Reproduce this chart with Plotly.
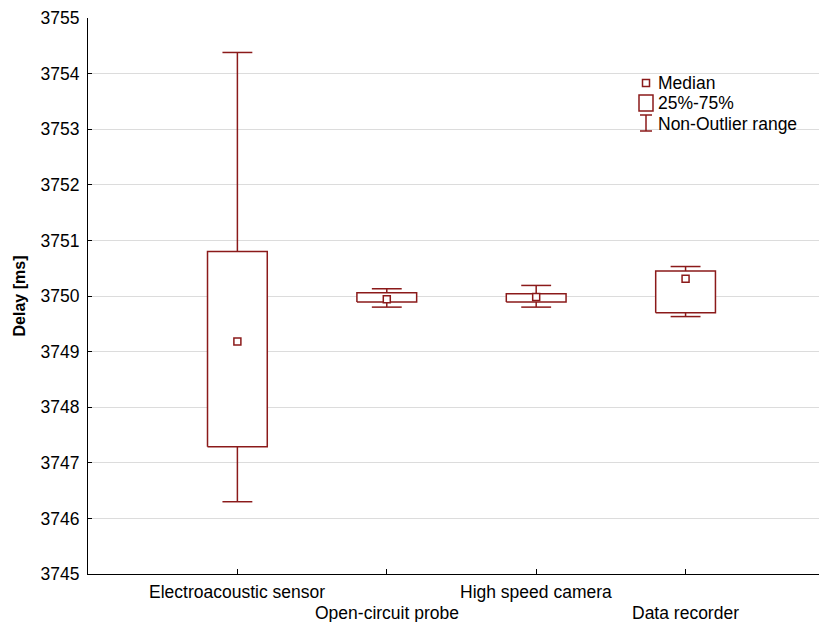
import plotly.graph_objects as go

categories = ["Electroacoustic sensor", "Open-circuit probe", "High speed camera", "Data recorder"]
lower_fence = [3746.30, 3749.80, 3749.80, 3749.63]
q1 = [3747.29, 3749.89, 3749.89, 3749.70]
median = [3749.18, 3749.94, 3749.98, 3750.31]
q3 = [3750.80, 3750.06, 3750.04, 3750.45]
upper_fence = [3754.38, 3750.13, 3750.19, 3750.53]
y_ticks = [3745, 3746, 3747, 3748, 3749, 3750, 3751, 3752, 3753, 3754, 3755]

RED = "#8B1A1A"
FONT = "Liberation Sans, Arial, sans-serif"
FS = 17.5
HW = 0.2   # box half width (axis units)
CW = 0.1   # cap half width

pos = list(range(len(categories)))

wx, wy, bx, by = [], [], [], []
for i, x in enumerate(pos):
    wx += [x, x, None, x - CW, x + CW, None]
    wy += [q3[i], upper_fence[i], None, upper_fence[i], upper_fence[i], None]
    wx += [x, x, None, x - CW, x + CW, None]
    wy += [q1[i], lower_fence[i], None, lower_fence[i], lower_fence[i], None]
    bx += [x - HW, x + HW, x + HW, x - HW, x - HW, None]
    by += [q1[i], q1[i], q3[i], q3[i], q1[i], None]

fig = go.Figure()
fig.add_trace(go.Scatter(x=wx, y=wy, mode="lines", line=dict(color=RED, width=1.5),
                         hoverinfo="skip", showlegend=False))
fig.add_trace(go.Scatter(x=bx, y=by, mode="lines", fill="toself", fillcolor="white",
                         line=dict(color=RED, width=1.5), hoverinfo="skip", showlegend=False))
fig.add_trace(go.Scatter(x=pos, y=median, mode="markers",
                         marker=dict(symbol="square", size=7, color="white",
                                     line=dict(color=RED, width=1.5)),
                         showlegend=False))

for i, (x, name) in enumerate(zip(pos, categories)):
    fig.add_annotation(x=x, y=0, xref="x", yref="paper", text=name, showarrow=False,
                       yanchor="middle", yshift=-18 if i % 2 == 0 else -39,
                       font=dict(family=FONT, size=FS, color="black"))

# custom legend (paper coordinates, from plot-area pixel positions)
L, B, W, H = 88, 574, 738, 556
def px(x): return (x - L) / W
def py(y): return (B - y) / H

fig.add_shape(type="rect", xref="paper", yref="paper", x0=px(642.5), x1=px(649.5),
              y0=py(86.5), y1=py(79.5), line=dict(color=RED, width=1.5), fillcolor="white")
fig.add_shape(type="rect", xref="paper", yref="paper", x0=px(639), x1=px(653),
              y0=py(111), y1=py(95), line=dict(color=RED, width=1.5), fillcolor="white")
fig.add_shape(type="line", xref="paper", yref="paper", x0=px(646), x1=px(646),
              y0=py(131), y1=py(115), line=dict(color=RED, width=1.5))
fig.add_shape(type="line", xref="paper", yref="paper", x0=px(640), x1=px(652),
              y0=py(115), y1=py(115), line=dict(color=RED, width=1.5))
fig.add_shape(type="line", xref="paper", yref="paper", x0=px(640), x1=px(652),
              y0=py(131), y1=py(131), line=dict(color=RED, width=1.5))
for txt, yy in [("Median", 83), ("25%-75%", 103), ("Non-Outlier range", 124)]:
    fig.add_annotation(x=px(656), y=py(yy), xref="paper", yref="paper", text=txt,
                       showarrow=False, xanchor="left", yanchor="middle",
                       font=dict(family=FONT, size=FS, color="black"))

fig.update_layout(
    width=827, height=622,
    margin=dict(l=80, r=9, t=10, b=56),
    plot_bgcolor="white", paper_bgcolor="white",
    font=dict(family=FONT, size=FS, color="black"),
    showlegend=False,
)
fig.update_xaxes(range=[-1.0, 3.94], tickvals=pos, ticktext=["" for _ in pos],
                 ticks="inside", ticklen=5, tickcolor="black", showgrid=False,
                 showline=True, linecolor="black", linewidth=1, zeroline=False,
                 automargin=False)
fig.update_yaxes(range=[3745, 3755], tickvals=y_ticks, ticks="inside", ticklen=4,
                 tickcolor="black", showgrid=True, gridcolor="#dcdcdc", gridwidth=1,
                 showline=True, linecolor="black", linewidth=1, zeroline=False,
                 ticklabelstandoff=4, automargin=False,
                 tickfont=dict(family=FONT, size=FS, color="black"),
                 title=dict(text="<b>Delay [ms]</b>", standoff=10,
                            font=dict(family=FONT, size=16, color="black")))

fig.write_html("out.html")
